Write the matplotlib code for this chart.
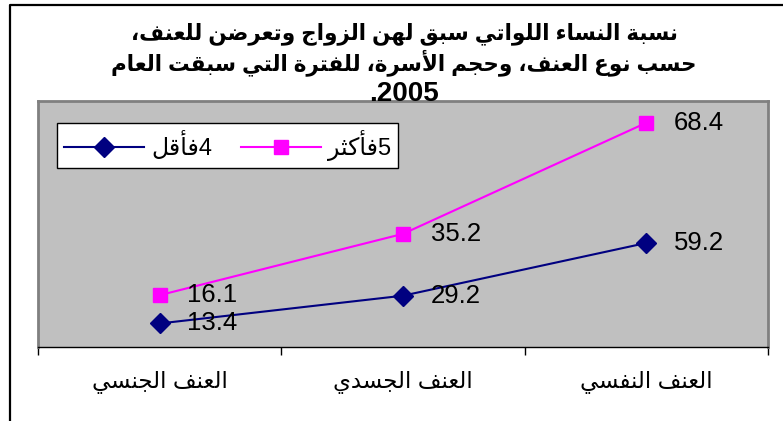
import re
import numpy as np
import matplotlib
matplotlib.use("Agg")
import matplotlib.pyplot as plt
from matplotlib.lines import Line2D

# data (values as printed on the chart, stacked line chart in the original)
categories = ["العنف الجنسي", "العنف الجسدي", "العنف النفسي"]
series_names = ["4فأقل", "5فأكثر"]
small_family = [13.4, 29.2, 59.2]   # 4 or less
large_family = [16.1, 35.2, 68.4]   # 5 or more
title_lines = ["نسبة النساء اللواتي سبق لهن الزواج وتعرضن للعنف،",
               "حسب نوع العنف، وحجم الأسرة، للفترة التي سبقت العام",
               "2005."]

# --- tiny arabic shaper: matplotlib does no shaping / bidi on its own ---
FOUR = {'ئ': 0xFE89, 'ب': 0xFE8F, 'ت': 0xFE95, 'ث': 0xFE99, 'ج': 0xFE9D, 'ح': 0xFEA1,
        'خ': 0xFEA5, 'س': 0xFEB1, 'ش': 0xFEB5, 'ص': 0xFEB9, 'ض': 0xFEBD, 'ط': 0xFEC1,
        'ظ': 0xFEC5, 'ع': 0xFEC9, 'غ': 0xFECD, 'ف': 0xFED1, 'ق': 0xFED5, 'ك': 0xFED9,
        'ل': 0xFEDD, 'م': 0xFEE1, 'ن': 0xFEE5, 'ه': 0xFEE9, 'ي': 0xFEF1}
TWO = {'آ': 0xFE81, 'أ': 0xFE83, 'ؤ': 0xFE85, 'إ': 0xFE87, 'ا': 0xFE8D, 'ة': 0xFE93,
       'د': 0xFEA9, 'ذ': 0xFEAB, 'ر': 0xFEAD, 'ز': 0xFEAF, 'و': 0xFEED, 'ى': 0xFEEF,
       'لآ': 0xFEF5, 'لأ': 0xFEF7, 'لإ': 0xFEF9, 'لا': 0xFEFB}
ONE = {'ء': 0xFE80}


def shape(s):
    units = []
    i = 0
    while i < len(s):
        if s[i] == 'ل' and s[i:i + 2] in TWO:
            units.append(s[i:i + 2])
            i += 2
        else:
            units.append(s[i])
            i += 1
    out = []
    for k, u in enumerate(units):
        prev = k > 0 and units[k - 1] in FOUR
        nxt = k + 1 < len(units) and (units[k + 1] in FOUR or units[k + 1] in TWO)
        if u in FOUR:
            b = FOUR[u]
            c = b + 3 if (prev and nxt) else b + 1 if prev else b + 2 if nxt else b
        elif u in TWO:
            c = TWO[u] + 1 if prev else TWO[u]
        elif u in ONE:
            c = ONE[u]
        else:
            out.append(u)
            continue
        out.append(chr(c))
    return "".join(out)


def ar(s):
    runs = re.findall(r'\d+|\D+', shape(s))
    return "".join(r if r.isdigit() else r[::-1] for r in reversed(runs))


plt.rcParams['font.family'] = ['Liberation Sans', 'DejaVu Sans']

W, H = 783, 421
fig = plt.figure(figsize=(W / 100, H / 100), dpi=100)
fig.patch.set_facecolor("white")

# outer chart border (only top and left visible in the original crop)
fig.add_artist(Line2D([10 / W, 10 / W, 1], [0, 1 - 5 / H, 1 - 5 / H],
                      transform=fig.transFigure, color="black", lw=1.6))

# title
for i, (line, yc) in enumerate(zip(title_lines, [34, 63, 94])):
    fig.text(404 / W, 1 - yc / H, ar(line), ha="center", va="center",
             fontsize=15.5 if i < 2 else 20, fontweight="bold")

ax = fig.add_axes([38 / W, 1 - 347 / H, (768 - 38) / W, (347 - 101) / H])
ax.set_facecolor("#C0C0C0")
for side in ["left", "top", "right"]:
    ax.spines[side].set_color("#808080")
    ax.spines[side].set_linewidth(2)
ax.spines["bottom"].set_color("black")
ax.spines["bottom"].set_linewidth(1)

x = np.arange(len(categories))
lower = np.array(small_family)
upper = lower + np.array(large_family)   # stacked line

ax.plot(x, lower, color="#000080", lw=1.5, marker="D", ms=10, label=ar(series_names[0]))
ax.plot(x, upper, color="#FF00FF", lw=1.5, marker="s", ms=10, label=ar(series_names[1]))

for xi, yi, v in zip(x, lower, small_family):
    ax.annotate(f"{v:.1f}", (xi, yi), xytext=(20, 0), textcoords="offset points",
                ha="left", va="center", fontsize=18.5)
for xi, yi, v in zip(x, upper, large_family):
    ax.annotate(f"{v:.1f}", (xi, yi), xytext=(20, 0), textcoords="offset points",
                ha="left", va="center", fontsize=18.5)

ax.set_xlim(-0.5, 2.5)
ax.set_ylim(0, 140)
ax.set_yticks([])
ax.set_xticks(x)
ax.set_xticklabels([ar(c) for c in categories], fontsize=16.5)
ax.set_xticks([-0.5, 0.5, 1.5, 2.5], minor=True)
ax.tick_params(axis="x", which="major", length=0, pad=17)
ax.tick_params(axis="x", which="minor", length=6, width=1, direction="out")

leg = ax.legend(loc="upper left", bbox_to_anchor=(57 / W, 1 - 123 / H),
                bbox_transform=fig.transFigure, ncol=2, fontsize=17,
                frameon=True, fancybox=False, borderaxespad=0,
                handlelength=3.4, handletextpad=0.3, columnspacing=1.2,
                borderpad=0.3)
leg.get_frame().set_edgecolor("black")
leg.get_frame().set_linewidth(1)
leg.get_frame().set_facecolor("white")
leg.get_frame().set_alpha(1)

fig.savefig("out.png", dpi=100)
